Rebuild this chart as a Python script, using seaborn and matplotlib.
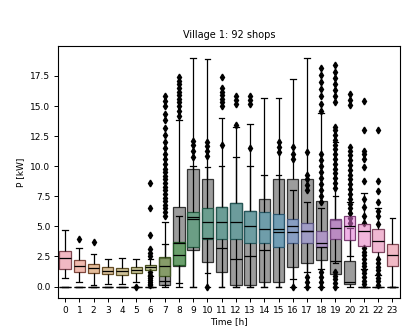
import numpy as np
import pandas as pd
import matplotlib
matplotlib.use("Agg")
import matplotlib.pyplot as plt
import seaborn as sns
from matplotlib.colors import to_rgba

hours = list(range(24))

# Colored (village) boxes: quartiles, whisker ends and outliers
c_q1 = [1.46, 1.24, 1.13, 1.05, 1.00, 1.10, 1.40, 0.90, 1.80, 3.30, 3.95, 3.95,
        3.95, 3.60, 3.60, 3.30, 3.60, 3.60, 3.30, 3.95, 3.90, 3.40, 2.85, 1.74]
c_med = [2.35, 1.74, 1.52, 1.33, 1.30, 1.40, 1.60, 1.75, 2.65, 5.74, 5.33, 5.33,
         5.38, 5.00, 4.80, 4.80, 5.00, 4.60, 3.60, 4.90, 5.05, 4.60, 3.80, 2.62]
c_q3 = [2.93, 2.21, 1.88, 1.60, 1.58, 1.65, 1.82, 2.45, 3.67, 6.20, 6.57, 6.65,
        6.93, 6.30, 6.20, 6.00, 5.65, 5.30, 4.60, 5.60, 5.90, 5.20, 4.75, 3.53]
c_lo = [0.72, 0.36, 0.14, 0.25, 0.20, 0.40, 0.90, 0.10, 0.30, 0.00, 1.10, 0.00,
        0.00, 0.00, 0.00, 0.00, 0.60, 1.20, 1.50, 2.00, 2.50, 1.50, 1.00, 0.00]
c_hi = [4.72, 3.20, 2.70, 2.30, 2.40, 2.30, 2.30, 3.50, 5.90, 10.0, 9.90, 10.0,
        10.8, 10.0, 9.30, 9.30, 8.00, 7.00, 6.50, 7.50, 7.00, 7.80, 6.50, 5.66]
c_out = [
    [], [3.95], [3.67], [], [], [0.0], [],
    [5.9, 6.2, 6.5, 6.8, 7.1, 7.4, 7.7, 8.0, 8.3, 8.6, 8.9, 9.2, 9.5, 9.8, 10.2,
     10.6, 11.0, 11.5, 12.0, 12.6, 13.2, 13.8, 14.3, 15.0, 15.4, 15.8],
    [14.2, 14.6, 15.0, 15.3, 15.6, 15.9, 16.2, 16.5, 16.8, 17.1, 17.4],
    [10.8, 11.3, 11.8, 12.1],
    [0.0, 10.85, 11.3, 11.7, 12.0],
    [11.8, 15.0, 15.3, 15.6, 15.9, 16.2, 16.5, 17.4],
    [13.4, 15.2, 15.5, 15.8],
    [11.5, 15.2, 15.5, 15.8],
    [],
    [11.2, 11.6, 12.0],
    [0.0, 10.6, 11.0, 11.6],
    [0.0, 0.4, 0.8, 8.0, 8.4, 8.9, 9.3, 11.2],
    [0.0, 0.4, 0.8, 1.2, 7.0, 7.5, 8.0, 8.5, 9.0, 9.5, 10.0, 10.5, 11.0,
     14.6, 15.2, 15.8, 16.4, 17.0, 17.6, 18.2],
    [0.0, 0.3, 0.6, 0.9, 1.2, 8.2, 8.6, 9.0, 9.4, 9.8, 10.2, 10.6, 11.0, 11.4,
     11.8, 12.2, 12.6, 13.0, 13.3, 15.3, 15.8, 16.3, 16.8, 17.3, 17.8, 18.4],
    [], [], [], [],
]

# Gray (all shops) boxes
g_q1 = [0, 0, 0, 0, 0, 0, 0, 0.10, 1.75, 3.00, 2.07, 1.20,
        0.10, 0.10, 0.41, 0.41, 1.60, 2.00, 2.20, 1.05, 0.22, 0, 0, 0]
g_med = [0, 0, 0, 0, 0, 0, 0, 0.50, 3.60, 5.60, 4.00, 3.20,
         2.30, 2.50, 3.04, 4.50, 4.50, 4.60, 3.26, 2.15, 0.41, 0, 0, 0]
g_q3 = [0, 0, 0, 0, 0, 0, 0, 2.40, 6.60, 9.80, 8.97, 6.65,
        6.93, 6.30, 7.26, 8.97, 8.97, 8.97, 7.10, 5.55, 2.15, 0, 0, 0]
g_lo = [0.0] * 24
g_hi = [0, 0, 0, 0, 0, 0, 0, 5.40, 13.8, 19.0, 18.9, 14.0,
        13.3, 13.5, 15.7, 15.7, 17.25, 19.0, 14.45, 12.0, 4.9, 0, 0, 0]
g_out = [
    [], [], [], [], [], [],
    [0.1, 0.25, 0.4, 0.55, 0.7, 0.85, 1.0, 1.2, 2.5, 2.8, 3.1, 4.3, 6.5, 8.6],
    [], [], [], [], [], [], [], [], [], [], [], [], [],
    [5.3, 5.7, 6.1, 6.5, 6.9, 7.3, 7.7, 8.1, 8.5, 8.9, 9.3, 9.7, 10.1, 10.5,
     10.9, 11.3, 11.6, 15.1, 15.5, 16.0],
    [0.2, 0.5, 0.8, 1.1, 1.4, 1.7, 2.0, 2.3, 2.6, 2.9, 3.2, 5.3, 5.9, 6.6, 7.3,
     8.8, 9.9, 10.6, 11.0, 11.3, 13.05, 15.4],
    [0.15, 0.45, 0.75, 1.05, 1.35, 1.65, 1.95, 2.25, 5.2, 5.9, 6.3, 7.0, 7.9,
     8.8, 13.05],
    [],
]


def build(q1, med, q3, lo, hi, out):
    xs, ys = [], []
    for h in hours:
        vals = ([lo[h]] + [q1[h]] * 200 + [med[h]] * 200 + [q3[h]] * 200
                + [hi[h]] + list(out[h]))
        xs += [h] * len(vals)
        ys += vals
    return pd.DataFrame({"Time [h]": xs, "P [kW]": ys})


df_gray = build(g_q1, g_med, g_q3, g_lo, g_hi, g_out)
df_col = build(c_q1, c_med, c_q3, c_lo, c_hi, c_out)

plt.rcParams["font.family"] = ["DejaVu Sans"]
fig = plt.figure(figsize=(4.09, 3.33), dpi=100)
ax = fig.add_axes([0.1418, 0.1051, 0.835, 0.7553])

flier = dict(marker="d", markerfacecolor="black", markeredgecolor="black",
             markersize=3.4, linestyle="none")

n0 = len(ax.patches)
sns.boxplot(data=df_gray, x="Time [h]", y="P [kW]", order=hours, color="gray",
            linecolor="black", linewidth=0.9, flierprops=flier, ax=ax)
for p in ax.patches[n0:]:
    p.set_facecolor(to_rgba(p.get_facecolor(), 0.78))
    p.set_edgecolor((0.2, 0.2, 0.2, 1.0))

n1 = len(ax.patches)
sns.boxplot(data=df_col, x="Time [h]", y="P [kW]", order=hours, hue="Time [h]",
            palette="husl", legend=False, linecolor="black", linewidth=0.9,
            flierprops=flier, ax=ax)
for p in ax.patches[n1:]:
    fc = np.array(to_rgba(p.get_facecolor()))
    p.set_facecolor(to_rgba(fc, 0.55))
    dark = fc[:3] * 0.55
    p.set_edgecolor((dark[0], dark[1], dark[2], 1.0))

ax.set_ylim(-0.95, 19.95)
ax.set_xlim(-0.5, 23.5)
ax.set_title("Village 1: 92 shops", fontsize=7)
ax.set_xlabel("Time [h]", fontsize=6.5, labelpad=2)
ax.set_ylabel("P [kW]", fontsize=6.5)
ax.tick_params(labelsize=6.5, length=3, width=0.7, pad=2.5)
for s in ax.spines.values():
    s.set_linewidth(0.8)

fig.savefig("out.png", dpi=100)
